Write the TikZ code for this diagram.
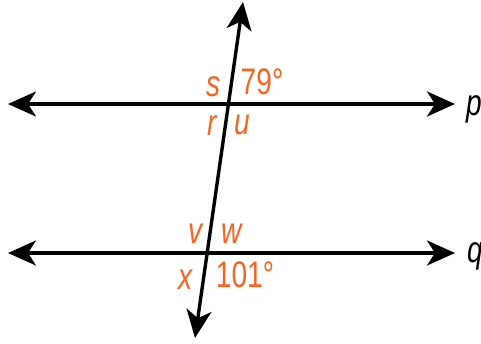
\documentclass[tikz,border=0pt]{standalone}
\usepackage{fontspec}
\setmainfont{Liberation Sans}
\usetikzlibrary{arrows.meta}
\definecolor{AngleOrange}{HTML}{F26522}
\newcommand{\narrowtext}[1]{\scalebox{0.76}[1]{#1}}

\begin{document}
\begin{tikzpicture}[
  x=1pt,y=-1pt,
  lineboth/.style={line width=3.4pt,
    {Stealth[length=28pt,width=25pt,inset=8pt]}-{Stealth[length=28pt,width=25pt,inset=8pt]}},
  anglelabel/.style={text=AngleOrange,inner sep=0pt,
    font=\fontsize{37}{37}\selectfont},
  linename/.style={inner sep=0pt,anchor=base,
    font=\fontsize{37}{37}\selectfont\itshape}
]
\useasboundingbox (0,0) rectangle (481,343);

% end points of the lines
\coordinate (pleft) at (8,104);
\coordinate (pright) at (455,104);
\coordinate (qleft) at (8,253);
\coordinate (qright) at (455,253);
\coordinate (ttop) at (243,2);
\coordinate (tbottom) at (195,338);

\draw[lineboth] (pleft) -- (pright);
\draw[lineboth] (qleft) -- (qright);
\draw[lineboth] (tbottom) -- (ttop);

% line names
\node[linename] (pname) at (474,115) {\narrowtext{p}};
\node[linename] (qname) at (475,262) {\narrowtext{q}};

% angles at p
\node[anglelabel] (s) at (214,87) {\narrowtext{\itshape s}};
\node[anglelabel] (a79) at (262,82) {\narrowtext{79°}};
\node[anglelabel] (r) at (212,126) {\narrowtext{\itshape r}};
\node[anglelabel] (u) at (242,125) {\narrowtext{\itshape u}};

% angles at q
\node[anglelabel] (v) at (196,234) {\narrowtext{\itshape v}};
\node[anglelabel] (w) at (232,234) {\narrowtext{\itshape w}};
\node[anglelabel] (x) at (186,280) {\narrowtext{\itshape x}};
\node[anglelabel] (a101) at (245,275) {\narrowtext{101°}};
\end{tikzpicture}
\end{document}
